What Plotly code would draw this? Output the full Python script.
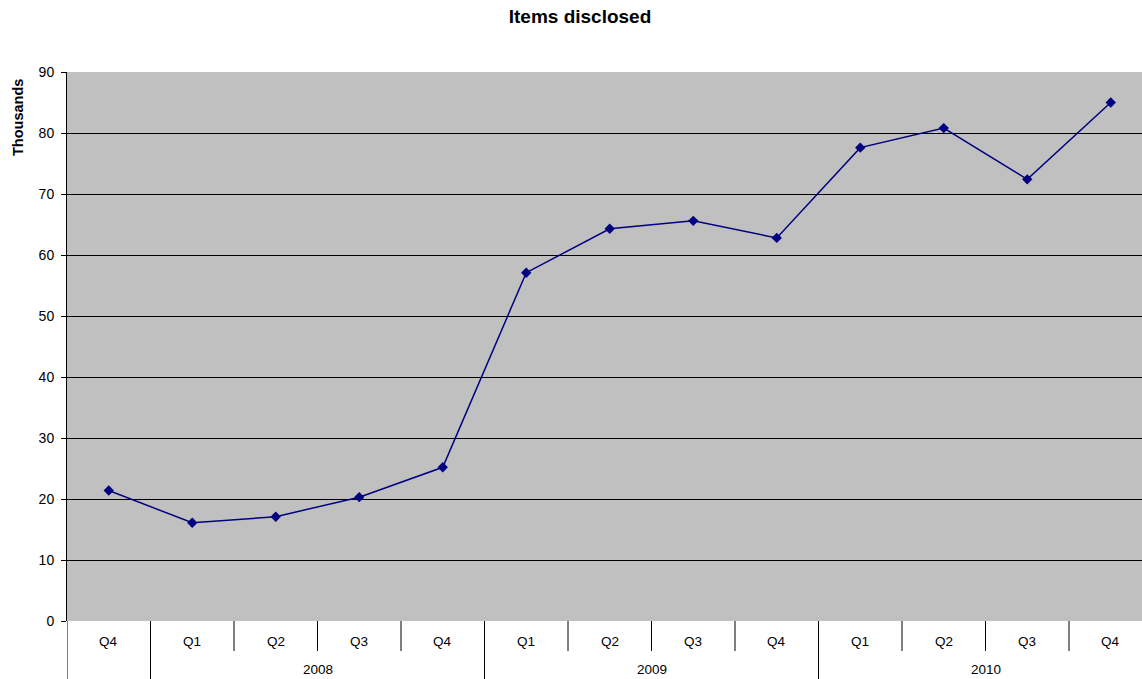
import plotly.graph_objects as go

# Quarterly series (thousands of items disclosed)
quarters = ["Q4", "Q1", "Q2", "Q3", "Q4", "Q1", "Q2", "Q3", "Q4", "Q1", "Q2", "Q3", "Q4"]
years = ["", "2008", "2008", "2008", "2008", "2009", "2009", "2009", "2009",
         "2010", "2010", "2010", "2010"]
items_thousands = [21.4, 16.1, 17.1, 20.3, 25.2, 57.1, 64.3, 65.6, 62.8, 77.6, 80.8, 72.4, 85.0]

W, H = 1142, 679
M_L, M_R, M_T, M_B = 67, 0, 72, 58
plot_h = H - M_T - M_B
cat_w = 83.5  # pixel width of one quarter slot
x_max = -0.5 + (W - M_L - M_R) / cat_w

FONT = "Liberation Sans, Arial, sans-serif"
NAVY = "#000080"

idx = list(range(len(quarters)))

fig = go.Figure()
fig.add_trace(go.Scatter(
    x=idx, y=items_thousands, mode="lines+markers",
    line=dict(color=NAVY, width=1.5),
    marker=dict(symbol="diamond", size=8, color=NAVY),
    cliponaxis=False, showlegend=False,
))

shapes = []
annotations = []

# Quarter labels under the axis
for i, q in enumerate(quarters):
    annotations.append(dict(
        x=i, xref="x", y=0, yref="paper", yshift=-20,
        text=q, showarrow=False, xanchor="center", yanchor="middle",
        font=dict(family=FONT, size=13.5, color="#000"),
    ))

# Year groups: label centered on the group, full-height separators at group edges
groups = []
for i, y in enumerate(years):
    if groups and groups[-1][0] == y:
        groups[-1][2] = i
    else:
        groups.append([y, i, i])
for y, a, b in groups:
    if y:
        annotations.append(dict(
            x=(a + b) / 2, xref="x", y=0, yref="paper", yshift=-48,
            text=y, showarrow=False, xanchor="center", yanchor="middle",
            font=dict(family=FONT, size=13.5, color="#000"),
        ))

group_edges = {a - 0.5 for _, a, _ in groups} | {b + 0.5 for _, _, b in groups}
short = -30 / plot_h
full = -M_B / plot_h
for i in range(len(quarters) + 1):
    pos = i - 0.5
    if pos > x_max:
        continue
    y1 = full if pos in group_edges else short
    shapes.append(dict(type="line", xref="x", yref="paper", x0=pos, x1=pos,
                       y0=0, y1=y1, line=dict(color="#000", width=1)))

# Vertical axis title
annotations.append(dict(
    x=0, xref="paper", xshift=-49, y=1 - (118 - M_T) / plot_h, yref="paper",
    text="<b>Thousands</b>", textangle=-90, showarrow=False,
    xanchor="center", yanchor="middle",
    font=dict(family=FONT, size=14.5, color="#000"),
))

fig.update_layout(
    width=W, height=H,
    margin=dict(l=M_L, r=M_R, t=M_T, b=M_B),
    paper_bgcolor="#ffffff",
    plot_bgcolor="#c0c0c0",
    title=dict(text="<b>Items disclosed</b>", x=580 / W, xref="container",
               xanchor="center", y=1 - 16 / H, yref="container", yanchor="middle",
               font=dict(family=FONT, size=19, color="#000")),
    xaxis=dict(range=[-0.5, x_max], showticklabels=False, ticks="",
               showgrid=False, zeroline=False, showline=False, fixedrange=True),
    yaxis=dict(range=[0, 90], dtick=10, tick0=0, ticks="outside", ticklen=5,
               tickcolor="#000", showline=True, linecolor="#000", linewidth=1,
               showgrid=True, gridcolor="#000", gridwidth=1, zeroline=False,
               tickfont=dict(family=FONT, size=14, color="#000"),
               ticklabelstandoff=4, fixedrange=True),
    shapes=shapes,
    annotations=annotations,
)

fig.write_html("out.html")
